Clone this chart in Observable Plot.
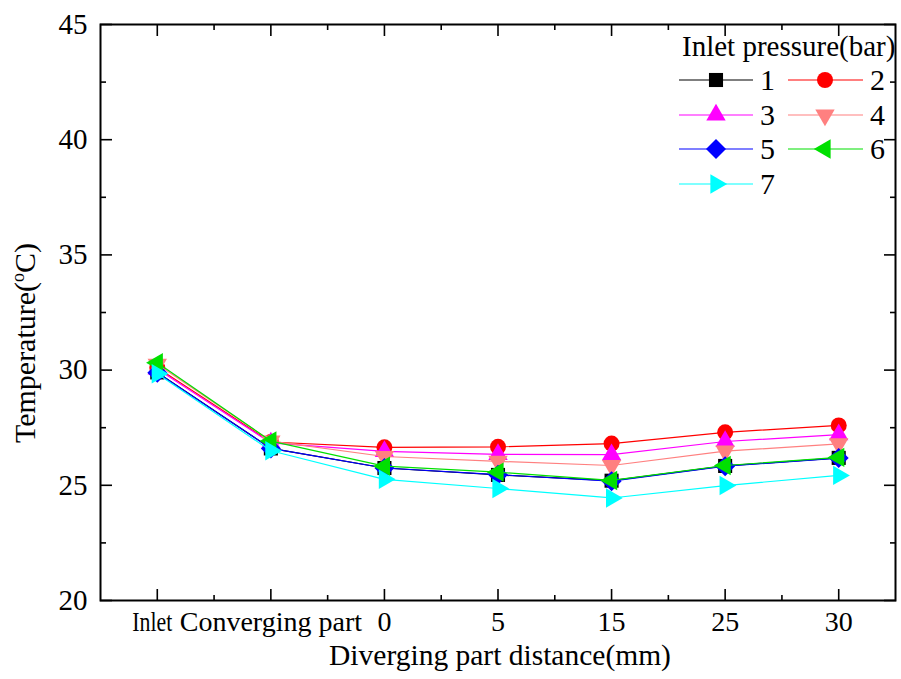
<!DOCTYPE html>
<html><head><meta charset="utf-8">
<script src="https://cdn.jsdelivr.net/npm/d3@7"></script>
<script src="https://cdn.jsdelivr.net/npm/@observablehq/plot@0.6"></script>
<style>
  html,body{margin:0;padding:0;background:#fff;}
  #chart svg{display:block;}
  #chart svg text{font-family: "Liberation Serif", "Times New Roman", Tinos, "DejaVu Serif", serif !important;}
</style>
</head><body><div id="chart"></div>
<script>
// ---- data ----
const positions = ["Inlet", "Converging part", "0", "5", "15", "25", "30"];
const pressures = ["1", "2", "3", "4", "5", "6", "7"];
const temp1 = [29.90, 26.60, 25.75, 25.45, 25.20, 25.84, 26.19];
const temp2 = [30.10, 26.88, 26.65, 26.67, 26.81, 27.30, 27.60];
const temp3 = [30.05, 26.84, 26.47, 26.34, 26.33, 26.90, 27.20];
const temp4 = [30.25, 26.92, 26.25, 26.04, 25.86, 26.48, 26.80];
const temp5 = [29.88, 26.60, 25.75, 25.46, 25.18, 25.83, 26.18];
const temp6 = [30.32, 26.92, 25.83, 25.57, 25.21, 25.86, 26.21];
const temp7 = [29.84, 26.50, 25.26, 24.86, 24.45, 24.99, 25.43];
const yTicks = [20, 25, 30, 35, 40, 45];
const yMinorTicks = [22.5, 27.5, 32.5, 37.5, 42.5];
const xMinorTicks = [0.5, 1.5, 2.5, 3.5, 4.5, 5.5];
const legendTitle = "Inlet pressure(bar)";
const xTitle = "Diverging part distance(mm)";

// ---- styling ----
const colors = ["#000000", "#ff0000", "#ff00ff", "#ff8080", "#0000ff", "#00e000", "#00ffff"];
const font = "\"Liberation Serif\", \"Times New Roman\", Tinos, \"DejaVu Serif\", serif";

function polySymbol(pointsFn) {
  return {draw(ctx, size) {
    const r = Math.sqrt(size / Math.PI);
    const pts = pointsFn(r);
    pts.forEach(([x, y], i) => i ? ctx.lineTo(x, y) : ctx.moveTo(x, y));
    ctx.closePath();
  }};
}
function triangle(angleDeg) {
  return polySymbol(r => {
    const R = r * 1.4;
    return [0, 1, 2].map(i => {
      const a = (angleDeg + i * 120) * Math.PI / 180;
      return [R * Math.cos(a), R * Math.sin(a)];
    });
  });
}
const square = polySymbol(r => { const h = r * 0.88; return [[-h, -h], [h, -h], [h, h], [-h, h]]; });
const diamond = polySymbol(r => { const R = r * 1.25; return [[0, -R], [R, 0], [0, R], [-R, 0]]; });
const circle = {draw(ctx, size) { const r = Math.sqrt(size / Math.PI); ctx.moveTo(r, 0); ctx.arc(0, 0, r, 0, 2 * Math.PI); }};
const symbols = [square, circle, triangle(-90), triangle(90), diamond, triangle(180), triangle(0)];

const series = [temp1, temp2, temp3, temp4, temp5, temp6, temp7];
const marks = [];
series.forEach((vals, s) => {
  const rows = vals.map((t, i) => ({pos: i, temp: t}));
  marks.push(Plot.line(rows, {x: "pos", y: "temp", stroke: colors[s], strokeWidth: 1.2}));
  marks.push(Plot.dot(rows, {x: "pos", y: "temp", symbol: symbols[s], fill: colors[s], stroke: "none", r: 8}));
});

const chart = Plot.plot({
  width: 901, height: 679,
  marginLeft: 100, marginRight: 6, marginTop: 24, marginBottom: 79,
  style: {fontFamily: font, fontSize: "29px", color: "#000", background: "#fff"},
  x: {type: "linear", domain: [-0.5, 6.5]},
  y: {domain: [20, 45]},
  marks: [
    ...marks,
    Plot.frame({stroke: "#000", strokeWidth: 2}),
    Plot.axisY({anchor: "left", ticks: yTicks, tickSize: -12, tickPadding: 25, tickFormat: d => String(d), label: null, fontSize: 29, strokeWidth: 1.6}),
    Plot.axisY({anchor: "left", ticks: yMinorTicks, tickSize: -6, tickFormat: () => "", label: null, strokeWidth: 1.6}),
    Plot.axisY({anchor: "right", ticks: yTicks, tickSize: -12, tickFormat: () => "", label: null, strokeWidth: 1.6}),
    Plot.axisY({anchor: "right", ticks: yMinorTicks, tickSize: -6, tickFormat: () => "", label: null, strokeWidth: 1.6}),
    Plot.axisX({anchor: "bottom", ticks: d3.range(positions.length), tickSize: -11, tickPadding: 22, tickFormat: i => positions[i], label: null, fontSize: 28, strokeWidth: 1.6}),
    Plot.axisX({anchor: "bottom", ticks: xMinorTicks, tickSize: -5, tickFormat: () => "", label: null, strokeWidth: 1.6}),
    Plot.axisX({anchor: "top", ticks: d3.range(positions.length), tickSize: -11, tickFormat: () => "", label: null, strokeWidth: 1.6}),
    Plot.axisX({anchor: "top", ticks: xMinorTicks, tickSize: -5, tickFormat: () => "", label: null, strokeWidth: 1.6})
  ]
});
document.getElementById("chart").appendChild(chart);

const svg = d3.select(chart);

// tighten the first category label so it sits clear of its neighbour, as in the original
svg.selectAll("text").filter(function() { return this.textContent === positions[0]; })
  .attr("textLength", 40).attr("lengthAdjust", "spacingAndGlyphs").attr("dx", -5);

// ---- titles & legend ----
svg.append("text")
  .attr("x", 500).attr("y", 665)
  .attr("text-anchor", "middle")
  .style("font-size", "29.5px").attr("fill", "#000")
  .text(xTitle);

const yt = svg.append("text")
  .attr("transform", "translate(35,343) rotate(-90)")
  .attr("text-anchor", "middle")
  .style("font-size", "30px").attr("fill", "#000");
yt.append("tspan").text("Temperature(");
yt.append("tspan").attr("dy", -11).style("font-size", "18px").text("o");
yt.append("tspan").attr("dy", 11).text("C)");

const lg = svg.append("g").attr("text-anchor", "start");
lg.append("text").attr("x", 682).attr("y", 56)
  .attr("text-anchor", "start")
  .style("font-size", "29px").attr("fill", "#000")
  .text(legendTitle);
const rowsY = [80, 115, 149, 184];
pressures.forEach((p, s) => {
  const col = s % 2, row = Math.floor(s / 2);
  const x0 = col ? 788 : 679, x1 = col ? 863 : 753, mx = col ? 825 : 716, tx = col ? 870 : 760;
  const y = rowsY[row];
  lg.append("line").attr("x1", x0).attr("x2", x1).attr("y1", y).attr("y2", y)
    .attr("stroke", colors[s]).attr("stroke-width", 1.2);
  lg.append("path").attr("transform", `translate(${mx},${y})`)
    .attr("d", d3.symbol(symbols[s], 64 * Math.PI)()).attr("fill", colors[s]);
  lg.append("text").attr("x", tx).attr("y", y + 10)
    .attr("text-anchor", "start")
    .style("font-size", "30px").attr("fill", "#000").text(p);
});
</script>
</body></html>
